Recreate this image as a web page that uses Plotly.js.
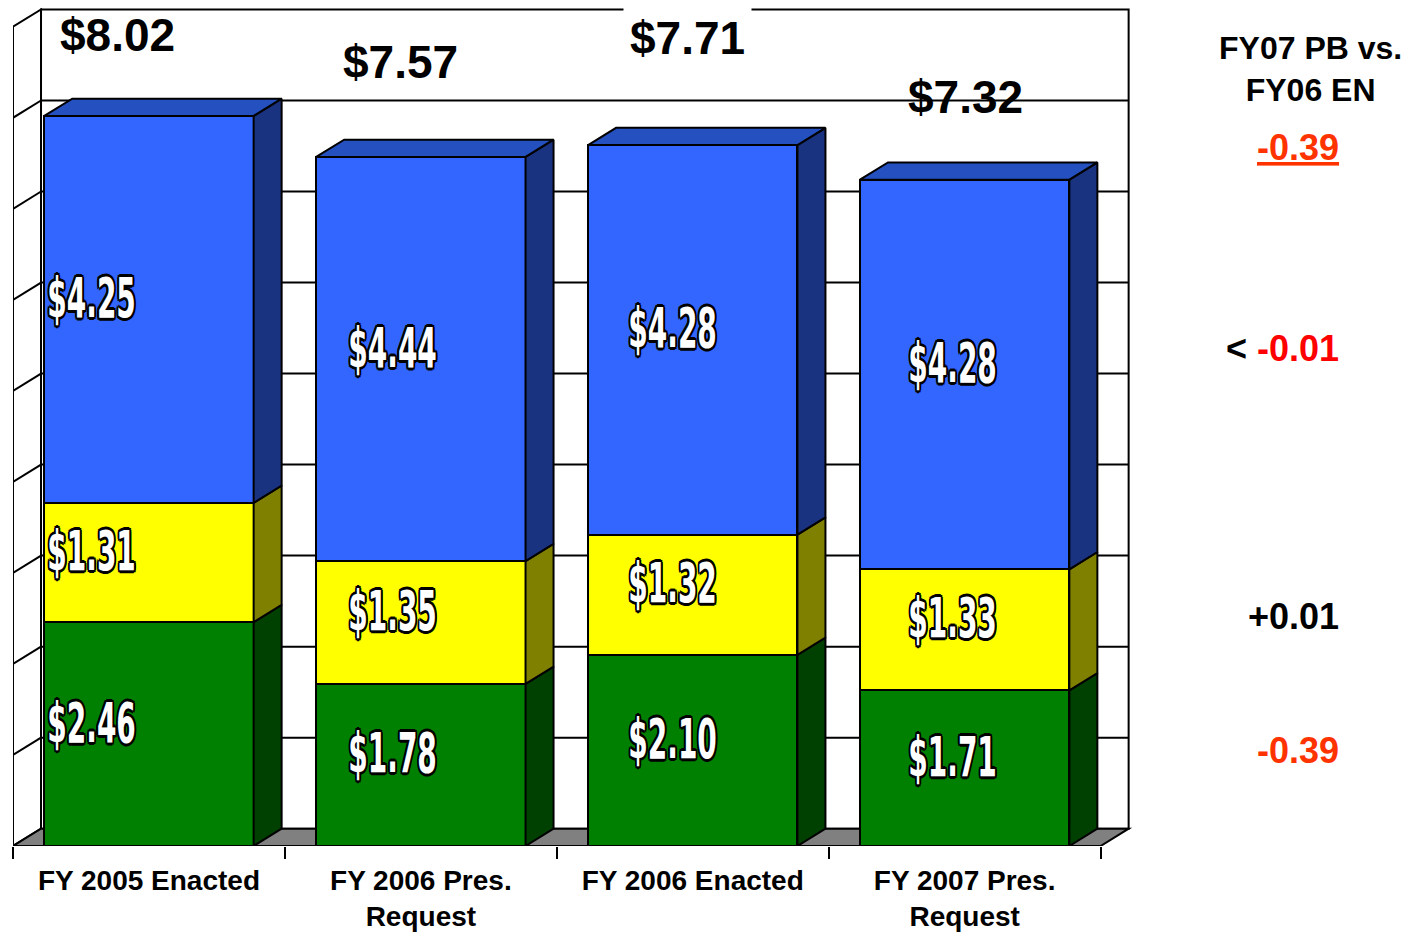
<!DOCTYPE html>
<html><head><meta charset="utf-8">
<script src="https://cdn.plot.ly/plotly-3.0.1.min.js"></script>
<style>html,body{margin:0;padding:0;background:#fff}#chart{width:1416px;height:934px}</style>
</head><body><div id="chart"></div>
<script>
// ---- data ----
const categories = ["FY 2005 Enacted", "FY 2006 Pres.<br>Request", "FY 2006 Enacted", "FY 2007 Pres.<br>Request"];
const greenValues = [2.46, 1.78, 2.10, 1.71];
const yellowValues = [1.31, 1.35, 1.32, 1.33];
const blueValues = [4.25, 4.44, 4.28, 4.28];
const totalLabels = ["$8.02", "$7.57", "$7.71", "$7.32"];
const diffHeader = "FY07 PB vs.<br>FY06 EN";
const diffTotal = "-0.39";
const diffBlue = "-0.01";
const diffYellow = "+0.01";
const diffGreen = "-0.39";

// ---- style / geometry ----
const BAR_W = 0.77, DX = 0.103, DY = 0.19, WALL_H = 9;
const FONT = "Liberation Sans, Arial, sans-serif";
const NARROW = "DejaVu Sans, sans-serif";
const NARROW_SCALE = 0.5;
const front = {green: "#008000", yellow: "#FFFF00", blue: "#3366FF"};
const side = {green: "#004000", yellow: "#808000", blue: "#1A3380"};
const topColor = "#2550C0";
const labelShiftX = [-57, -28, -20, -12];
const totalShiftX = [-31, -20, -5, 1];
const totalShiftY = [81, 95, 107, 83];
const OUTLINE = "3px 0 0 #000,-3px 0 0 #000,0 2px 0 #000,0 -2px 0 #000,2.5px 1.5px 0 #000,-2.5px -1.5px 0 #000,2.5px -1.5px 0 #000,-2.5px 1.5px 0 #000";

const xs = categories.map((_, i) => i);
const series = [
  {name: "green", vals: greenValues},
  {name: "yellow", vals: yellowValues},
  {name: "blue", vals: blueValues}
];

const traces = [];
series.forEach(s => {
  traces.push({
    type: "bar", x: xs, y: s.vals, width: BAR_W,
    marker: {color: front[s.name], line: {color: "#000", width: 2}},
    hoverinfo: "skip", showlegend: false
  });
});
const bases = xs.map(() => 0);
const annotations = [];
series.forEach(s => {
  const px = [], py = [];
  s.vals.forEach((v, i) => {
    const y0 = bases[i], y1 = bases[i] + v, xr = i + BAR_W / 2;
    px.push(xr, xr + DX, xr + DX, xr, xr, null);
    py.push(y0, y0 + DY, y1 + DY, y1, y0, null);
    annotations.push({
      x: i, y: (y0 + y1) / 2, xref: "x", yref: "y", showarrow: false,
      text: "$" + v.toFixed(2), xshift: labelShiftX[i], yshift: 12,
      font: {family: NARROW, size: 56, color: "#fff", weight: "bold", shadow: OUTLINE}
    });
    bases[i] = y1;
  });
  traces.push({
    type: "scatter", mode: "lines", x: px, y: py, fill: "toself",
    fillcolor: side[s.name], line: {color: "#000", width: 2},
    hoverinfo: "skip", showlegend: false
  });
});
const nInner = annotations.length;
{
  const px = [], py = [];
  bases.forEach((t, i) => {
    const xl = i - BAR_W / 2, xr = i + BAR_W / 2;
    px.push(xl, xl + DX, xr + DX, xr, xl, null);
    py.push(t, t + DY, t + DY, t, t, null);
  });
  traces.push({
    type: "scatter", mode: "lines", x: px, y: py, fill: "toself",
    fillcolor: topColor, line: {color: "#000", width: 2},
    hoverinfo: "skip", showlegend: false
  });
}
bases.forEach((t, i) => {
  annotations.push({
    x: i, y: t, xref: "x", yref: "y", showarrow: false,
    text: totalLabels[i], xshift: totalShiftX[i], yshift: totalShiftY[i],
    bgcolor: i === 2 ? "#fff" : "rgba(0,0,0,0)", borderpad: 6,
    font: {family: FONT, size: 46, color: "#000", weight: "bold"}
  });
});
const last = xs.length - 1;
const RX = (1341 - 13) / 1142;
annotations.push({
  xref: "paper", yref: "y", x: (1310 - 13) / 1142, y: 8.54, showarrow: false,
  text: diffHeader, xanchor: "center",
  font: {family: FONT, size: 32, color: "#000", weight: "bold"}
});
const g = greenValues[last], yl = yellowValues[last], b = blueValues[last];
const diffItems = [
  {y: g + yl + b, text: "<u>" + diffTotal + "</u>", shift: 32, color: "#FF3300"},
  {y: g + yl + b / 2, text: "<span style='color:#000'>&lt;</span> " + diffBlue, shift: 26, color: "#FF0000"},
  {y: g + yl / 2, text: diffYellow, shift: 13, color: "#000"},
  {y: g / 2, text: diffGreen, shift: 18, color: "#FF3300"}
];
diffItems.forEach(d => {
  annotations.push({
    xref: "paper", yref: "y", x: RX, y: d.y, yshift: d.shift, xanchor: "right",
    showarrow: false, text: d.text,
    font: {family: FONT, size: 36, color: d.color, weight: "bold"}
  });
});

const x0 = -0.5, x1 = xs.length - 0.5;
const shapes = [];
const L = {color: "#000", width: 2};
shapes.push({type: "rect", xref: "x", yref: "y", x0: x0 + DX, x1: x1 + DX, y0: DY, y1: WALL_H + DY,
  fillcolor: "#fff", line: L, layer: "below"});
shapes.push({type: "path", xref: "x", yref: "y", layer: "below", fillcolor: "#fff", line: L,
  path: `M${x0},0 L${x0 + DX},${DY} L${x0 + DX},${WALL_H + DY} L${x0},${WALL_H} Z`});
for (let k = 1; k < WALL_H; k++) {
  shapes.push({type: "line", xref: "x", yref: "y", layer: "below", line: L,
    x0: x0 + DX, x1: x1 + DX, y0: k + DY, y1: k + DY});
  shapes.push({type: "line", xref: "x", yref: "y", layer: "below", line: L,
    x0: x0, x1: x0 + DX, y0: k, y1: k + DY});
}
shapes.push({type: "path", xref: "x", yref: "y", layer: "below", fillcolor: "#808080", line: L,
  path: `M${x0},0 L${x0 + DX},${DY} L${x1 + DX},${DY} L${x1},0 Z`});

const boundaries = xs.map(i => i - 0.5).concat([x1]);

const layout = {
  width: 1416, height: 934,
  margin: {l: 13, r: 261, t: 4, b: 88},
  paper_bgcolor: "#fff", plot_bgcolor: "rgba(0,0,0,0)",
  barmode: "stack", showlegend: false,
  font: {family: FONT},
  xaxis: {
    range: [-0.5, 3.7], tickmode: "array", tickvals: xs, ticktext: categories,
    ticks: "", showgrid: false, zeroline: false, showline: false,
    tickfont: {family: FONT, size: 28, color: "#000", weight: "bold"},
    ticklabelstandoff: 15,
    minor: {tickmode: "array", tickvals: boundaries, ticks: "outside", ticklen: 12,
      tickwidth: 2, tickcolor: "#000", showgrid: false}
  },
  yaxis: {range: [0, 9.25], visible: false, fixedrange: true},
  shapes: shapes,
  annotations: annotations
};

function condense() {
  for (let i = 0; i < nInner; i++) {
    const t = document.querySelector('.annotation[data-index="' + i + '"] text.annotation-text');
    if (!t) continue;
    const bb = t.getBBox();
    const cx = bb.x + bb.width / 2;
    t.setAttribute("transform", `translate(${cx},0) scale(${NARROW_SCALE},1) translate(${-cx},0)`);
  }
}
Plotly.newPlot("chart", traces, layout, {displayModeBar: false, staticPlot: true}).then(condense);
</script></body></html>
